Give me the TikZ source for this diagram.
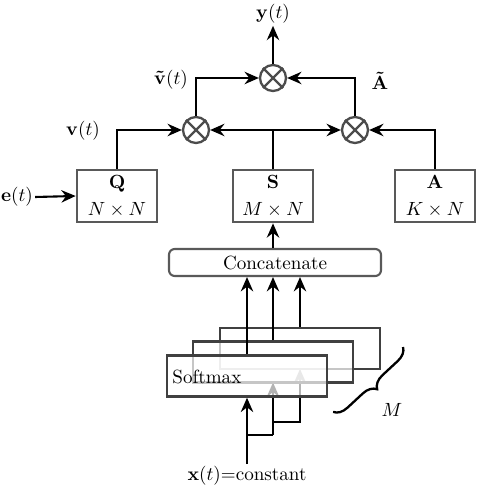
\documentclass[tikz,border=0pt]{standalone}
\usetikzlibrary{arrows.meta,decorations.pathreplacing,calc}
\begin{document}
\def\px{0.5236pt}
\begin{tikzpicture}[x=0.5236pt,y=-0.5236pt,
  mat/.style={draw=black!65, line width=1.4pt, fill=white, minimum width=80*\px, minimum height=52*\px, align=center, inner sep=0pt},
  mult/.style={circle, draw=black!70, line width=1.2pt, minimum size=26*\px, inner sep=0pt},
  arr/.style={-{Stealth[length=7.5pt,width=6.5pt,inset=2.5pt]}, line width=1.1pt},
  conn/.style={line width=1.1pt},
  smbox/.style={draw=black!75, line width=1.3pt, fill=white, fill opacity=0.7, minimum width=160*\px, minimum height=41*\px, inner sep=0pt},
  ccbox/.style={draw=black!65, line width=1.1pt, rounded corners=3pt, minimum width=212*\px, minimum height=27*\px, inner sep=0pt},
  lbl/.style={inner sep=1pt}]
\useasboundingbox (0,0) rectangle (476,488);

% matrices
\node[mat] (Q) at (117,196) {$\mathbf{Q}$\\[2pt]$N\times N$};
\node[mat] (S) at (273,196) {$\mathbf{S}$\\[2pt]$M\times N$};
\node[mat] (A) at (435,196) {$\mathbf{A}$\\[2pt]$K\times N$};

% multipliers
\node[mult] (m1) at (196,130) {};
\node[mult] (m2) at (355,130) {};
\node[mult] (m3) at (273,78) {};
\foreach \n in {m1,m2,m3}
  \draw[draw=black!70, line width=1.2pt] (\n.45) -- (\n.225) (\n.135) -- (\n.315);

% labels
\node[lbl] (yl) at (273,14) {$\mathbf{y}(t)$};
\node[lbl] (vt) at (171,80) {$\mathbf{\tilde{v}}(t)$};
\node[lbl] (At) at (380,81) {$\mathbf{\tilde{A}}$};
\node[lbl] (v) at (83,131) {$\mathbf{v}(t)$};
\node[lbl] (e) at (17,197) {$\mathbf{e}(t)$};

% connectors top
\coordinate (Sj) at (S.north |- m1.center);
\draw[arr] (Q.north) |- (m1.west);
\draw[conn] (S.north) -- (Sj);
\draw[arr] (Sj) -- (m1.east);
\draw[arr] (Sj) -- (m2.west);
\draw[arr] (A.north) |- (m2.east);
\draw[arr] (m1.north) |- (m3.west);
\draw[arr] (m2.north) |- (m3.east);
\draw[arr] (m3.north) -- (yl.south);
\draw[arr] (e.east) -- (Q.west);

% concatenate
\node[ccbox] (cc) at (275,262.5) {Concatenate};
\draw[arr] (S.south |- cc.north) -- (S.south);

% softmax stack
\node (xl) [lbl] at (247,476) {$\mathbf{x}(t)$=constant};
\coordinate (b1) at (247,435);
\coordinate (b2) at (273,422);
\coordinate (b1r) at (273,435);

\draw[arr] (b2) -| (300,369);
\node[smbox] (sm3) at (300,348.5) {};
\draw[conn] (b1) -- (b1r);
\draw[arr] (b1r) -- (273,382.5);
\node[smbox] (sm2) at (273,362) {};
\node[smbox] (sm1) at (247,376) {};
\node[anchor=west, inner sep=0pt] (smt) at (172,377) {Softmax};
\draw[arr] (xl.north) -- (sm1.south);

\draw[arr] (sm1.north) -- (sm1.north |- cc.south);
\draw[arr] (sm2.north) -- (sm2.north |- cc.south);
\draw[arr] (sm3.north) -- (sm3.north |- cc.south);

% brace
\draw[line width=1.2pt, decorate, decoration={brace, amplitude=7pt}] (403,347) -- (333,412);
\node[lbl] (Ml) at (392,410) {$M$};
\end{tikzpicture}
\end{document}
